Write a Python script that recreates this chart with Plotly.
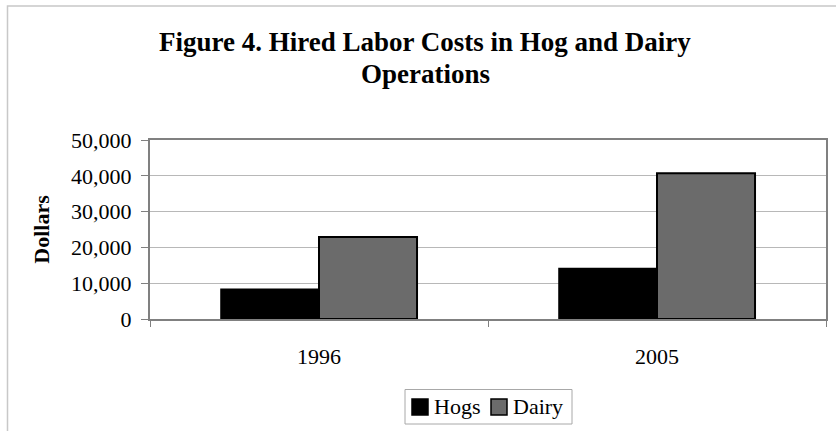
import plotly.graph_objects as go

# Hired labor costs per operation, in dollars
years = ["1996", "2005"]
hogs = [8300, 14100]
dairy = [22900, 40700]
series_names = ["Hogs", "Dairy"]
series_colors = ["#000000", "#6b6b6b"]
y_ticks = [0, 10000, 20000, 30000, 40000, 50000]
y_tick_labels = ["0", "10,000", "20,000", "30,000", "40,000", "50,000"]
title_lines = ["Figure 4. Hired Labor Costs in Hog and Dairy", "Operations"]

W, H = 836, 431
L, R, T, B = 150, 10, 140, 112
SERIF = "Liberation Serif"

fig = go.Figure()
for name, vals, color, lw in zip(series_names, [hogs, dairy], series_colors, [1.5, 2]):
    fig.add_trace(go.Bar(
        x=years, y=vals, name=name, showlegend=False,
        marker=dict(color=color, line=dict(color="#000000", width=lw)),
    ))

pw, ph = W - L - R, H - T - B
def px_x(p):
    return (p - L) / pw
def px_y(p):
    return (H - B - p) / ph

# outer chart frame (light gray), running past the right/bottom page edges
fig.add_shape(type="rect", xref="paper", yref="paper",
              x0=px_x(7.5), x1=px_x(W + 20), y0=px_y(H + 20), y1=px_y(6),
              line=dict(color="#c8c8c8", width=1.5), fillcolor="rgba(0,0,0,0)",
              layer="below")

# two-line bold heading
for text, ypix in zip(title_lines, [42, 74]):
    fig.add_annotation(
        text=f"<b>{text}</b>", xref="paper", yref="paper",
        x=px_x(425), y=px_y(ypix), xanchor="center", yanchor="middle",
        showarrow=False,
        font=dict(family=SERIF, size=27, color="#000000"),
    )

# boxed key below the axis: swatch + label per series
fig.add_shape(type="rect", xref="paper", yref="paper",
              x0=px_x(405), x1=px_x(572), y0=px_y(424), y1=px_y(389.5),
              line=dict(color="#a8a8a8", width=1), fillcolor="white")
for name, color, sx in zip(series_names, series_colors, [412, 491]):
    fig.add_shape(type="rect", xref="paper", yref="paper",
                  x0=px_x(sx), x1=px_x(sx + 16), y0=px_y(415), y1=px_y(399),
                  line=dict(color="#000000", width=1.5), fillcolor=color)
    fig.add_annotation(
        text=name, xref="paper", yref="paper",
        x=px_x(sx + 20), y=px_y(406), xanchor="left", yanchor="middle",
        showarrow=False,
        font=dict(family=SERIF, size=22, color="#000000"),
    )

fig.update_layout(
    width=W, height=H,
    margin=dict(l=L, r=R, t=T, b=B, pad=0, autoexpand=False),
    paper_bgcolor="white", plot_bgcolor="white",
    font=dict(family=SERIF, size=21, color="#000000"),
    barmode="group",
    bargap=0.42,
    bargroupgap=0,
    showlegend=False,
    xaxis=dict(
        type="category",
        showline=True, linecolor="#808080", linewidth=2, mirror=True,
        ticks="outside", tickson="boundaries", ticklen=6, tickcolor="#808080",
        tickwidth=1,
        ticklabelstandoff=17,
        showgrid=False,
        tickfont=dict(family=SERIF, size=22),
    ),
    yaxis=dict(
        range=[0, 50000],
        tickvals=y_ticks, ticktext=y_tick_labels,
        showline=True, linecolor="#808080", linewidth=2, mirror=True,
        ticks="outside", ticklen=7, tickcolor="#808080", tickwidth=1,
        ticklabelstandoff=5,
        showgrid=True, gridcolor="#b8b8b8", gridwidth=1,
        zeroline=False,
        tickfont=dict(family=SERIF, size=22),
        title=dict(text="<b>Dollars</b>", standoff=15,
                   font=dict(family=SERIF, size=22)),
    ),
)

fig.write_html("out.html")
